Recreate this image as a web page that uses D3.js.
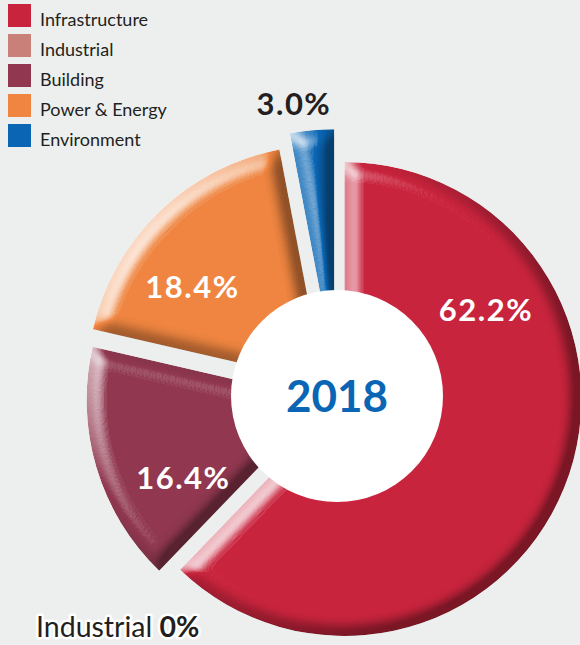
<!DOCTYPE html>
<html>
<head>
<meta charset="utf-8">
<script src="https://cdn.jsdelivr.net/npm/d3@7"></script>
<style>
  html, body { margin: 0; padding: 0; background: #edefee; }
  svg { display: block; }
</style>
</head>
<body>
<div id="chart"></div>
<script>
// ---- data ----
const categories = ["Infrastructure", "Industrial", "Building", "Power & Energy", "Environment"];
const values = [62.2, 0, 16.4, 18.4, 3.0];
const valueLabels = ["62.2%", "0%", "16.4%", "18.4%", "3.0%"];
const colors = ["#c9243d", "#c98078", "#913850", "#ef8540", "#0a66b4"];
const centerTitle = "2018";

// ---- layout / style ----
const W = 580, H = 645;
const cx = 337, cy = 396;
const outerR = 237, holeR = 106;
const explode = [8, 0, 14, 19, 30];                 // px, along slice mid-angle
const labelPolar = [[60, 172], null, [242, 174], [307, 181], [351.6, 295]]; // [deg, radius]
const labelFill = ["#fff", null, "#fff", "#fff", "#231f20"];

const svg = d3.select("#chart").append("svg")
  .attr("width", W).attr("height", H)
  .style("background", "#edefee");

// bevel / lighting filter
const defs = svg.append("defs");
const f = defs.append("filter").attr("id", "bevel")
  .attr("x", "-10%").attr("y", "-10%").attr("width", "120%").attr("height", "120%")
  .attr("color-interpolation-filters", "sRGB");
f.append("feGaussianBlur").attr("in", "SourceAlpha").attr("stdDeviation", 8).attr("result", "blur");
const dl = f.append("feDiffuseLighting").attr("in", "blur").attr("surfaceScale", 16)
  .attr("diffuseConstant", 1).attr("lighting-color", "#ffffff").attr("result", "diff");
dl.append("feDistantLight").attr("azimuth", 215).attr("elevation", 45);
f.append("feColorMatrix").attr("in", "diff").attr("type", "matrix")
  .attr("values", "0 0 0 0 1  0 0 0 0 1  0 0 0 0 1  2.6 0 0 0 -1.84").attr("result", "hi");
f.append("feColorMatrix").attr("in", "diff").attr("type", "matrix")
  .attr("values", "0 0 0 0 0  0 0 0 0 0  0 0 0 0 0  -0.55 0 0 0 0.39").attr("result", "sh");
const m = f.append("feMerge").attr("result", "lit");
m.append("feMergeNode").attr("in", "SourceGraphic");
m.append("feMergeNode").attr("in", "hi");
m.append("feMergeNode").attr("in", "sh");
f.append("feComposite").attr("in", "lit").attr("in2", "SourceAlpha").attr("operator", "in");

const data = categories.map((c, i) => ({ cat: c, value: values[i], i }));
const pie = d3.pie().value(d => d.value).sort(null);
const arcs = pie(data);
const arc = d3.arc().innerRadius(0).outerRadius(outerR);

const g = svg.append("g").attr("transform", `translate(${cx},${cy})`);

g.selectAll("path.slice")
  .data(arcs.filter(a => a.value > 0))
  .join("path")
  .attr("class", "slice")
  .attr("d", arc)
  .attr("fill", a => colors[a.data.i])
  .attr("filter", "url(#bevel)")
  .attr("transform", a => {
    const mid = (a.startAngle + a.endAngle) / 2;
    const [dx, dy] = d3.pointRadial(mid, explode[a.data.i]);
    return `translate(${dx},${dy})`;
  });

// center hole
g.append("circle").attr("r", holeR).attr("fill", "#ffffff");
g.append("text")
  .attr("text-anchor", "middle").attr("dy", "0.36em")
  .attr("font-family", "Lato, 'Open Sans', sans-serif")
  .attr("font-weight", 700).attr("font-size", 44)
  .attr("fill", "#0a66b4")
  .text(centerTitle);

// value labels
arcs.forEach(a => {
  const i = a.data.i;
  if (!labelPolar[i]) return;
  const [deg, r] = labelPolar[i];
  const [x, y] = d3.pointRadial(deg * Math.PI / 180, r);
  g.append("text")
    .attr("x", x).attr("y", y).attr("dy", "0.36em")
    .attr("text-anchor", "middle")
    .attr("font-family", "Lato, 'Open Sans', sans-serif")
    .attr("font-weight", 700).attr("font-size", 31)
    .attr("letter-spacing", 1.5)
    .attr("fill", labelFill[i])
    .text(valueLabels[i]);
});

// zero-value label (Industrial)
const zeroIdx = values.findIndex(v => v === 0);
const zt = svg.append("text")
  .attr("x", 36).attr("y", 637)
  .attr("font-family", "Lato, 'Open Sans', sans-serif")
  .attr("font-size", 28.5)
  .attr("fill", "#231f20")
  .attr("stroke", "#ffffff").attr("stroke-width", 5).attr("stroke-linejoin", "round")
  .attr("paint-order", "stroke");
zt.append("tspan").text(categories[zeroIdx] + " ");
zt.append("tspan").attr("font-weight", 700).text(valueLabels[zeroIdx]);

// legend
const legend = svg.append("g").attr("transform", "translate(8,4)");
const rows = legend.selectAll("g").data(categories).join("g")
  .attr("transform", (d, i) => `translate(0,${i * 30})`);
rows.append("rect").attr("width", 23).attr("height", 23).attr("fill", (d, i) => colors[i]);
rows.append("text").attr("x", 32).attr("y", 22)
  .attr("font-family", "Lato, 'Open Sans', sans-serif")
  .attr("font-size", 18).attr("fill", "#231f20")
  .text(d => d);
</script>
</body>
</html>
